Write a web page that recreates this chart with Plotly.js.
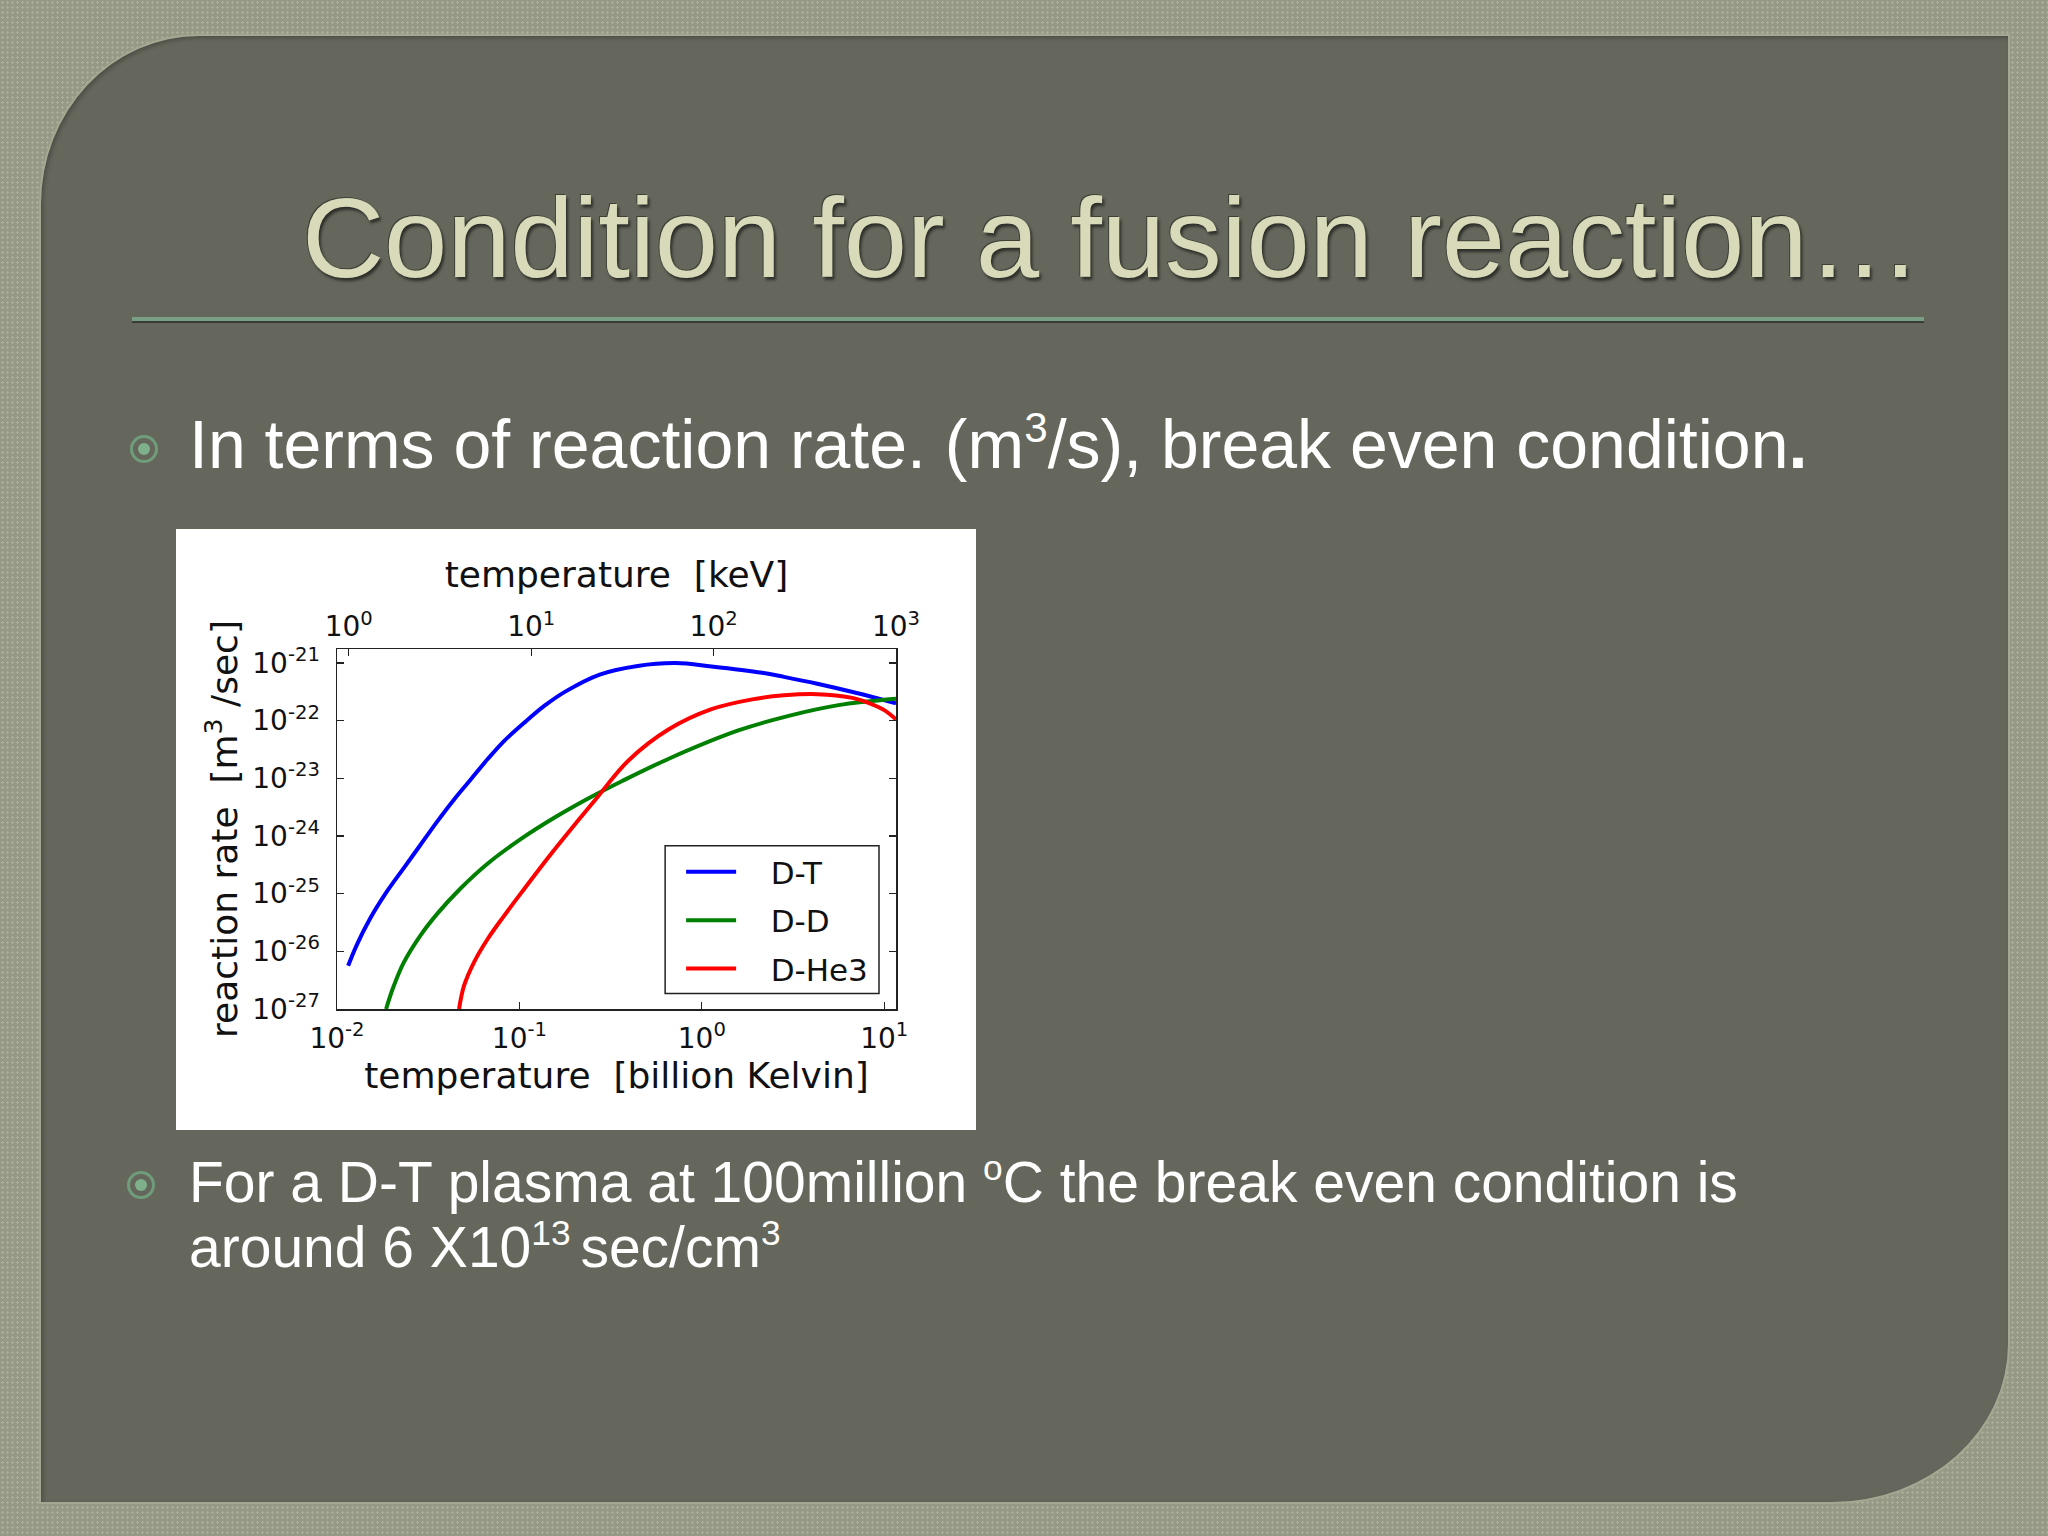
<!DOCTYPE html>
<html>
<head>
<meta charset="utf-8">
<script src="https://cdn.plot.ly/plotly-3.0.1.min.js"></script>
<style>
  html, body { margin:0; padding:0; }
  body {
    width:2048px; height:1536px; position:relative; overflow:hidden;
    background-color:#969985;
    background-image: radial-gradient(rgba(225,230,205,0.28) 1px, transparent 1.4px);
    background-size: 5px 5px;
    font-family: "Liberation Sans", Arial, sans-serif;
  }
  #panel {
    position:absolute; left:39px; top:34px; width:1967px; height:1466px;
    background:#65675c;
    border:2px solid #a4a892;
    border-top-left-radius:160px 170px;
    border-bottom-right-radius:178px 160px;
    box-shadow: inset 2px 2px 4px rgba(0,0,0,0.25);
  }
  #title {
    position:absolute; left:302px; top:181px; font-size:114px; line-height:114px;
    color:#d8dab9; white-space:nowrap; letter-spacing:-0.3px;
    text-shadow: -1px -1px 0 #3e4036, 2px 3px 3px rgba(0,0,0,0.55);
  }
  #rule1 { position:absolute; left:132px; top:317px; width:1792px; height:4px; background:#79a085; }
  #rule2 { position:absolute; left:132px; top:321px; width:1792px; height:2px; background:#3a3c33; }
  .bullet { position:absolute; width:28px; height:28px; border-radius:50%; box-sizing:border-box;
            border:3px solid #6f9c7b; }
  .bullet::after { content:""; position:absolute; left:5px; top:5px; width:12px; height:12px; border-radius:50%; background:#7fb08c; }
  .txt { position:absolute; left:189px; color:#ffffff; white-space:nowrap; }
  .txt sup { font-size:0.62em; vertical-align:0.62em; line-height:0; }
  #chartbox { position:absolute; left:176px; top:529px; width:800px; height:601px; background:#ffffff; }
</style>
</head>
<body>
<div id="panel"></div>
<div id="title">Condition for a fusion reaction…</div>
<div id="rule1"></div><div id="rule2"></div>

<div class="bullet" style="left:130px; top:435px;"></div>
<div class="txt" style="top:410px; font-size:68px; line-height:68px;">In terms of reaction rate. (m<sup>3</sup>/s), break even condition<b>.</b></div>

<div id="chartbox"></div>

<div class="bullet" style="left:127px; top:1171px;"></div>
<div class="txt" style="top:1150px; font-size:57px; line-height:65px;">For a D-T plasma at 100million <sup>o</sup>C the break even condition is<br>around 6 X10<sup>13 </sup>sec/cm<sup>3</sup></div>

<script>
// ---- data (temperature in billion Kelvin, reaction rate in m^3/sec) ----
const seriesNames = ['D-T', 'D-D', 'D-He3'];
const seriesColors = ['#0000ff', '#008000', '#ff0000'];

const dtTemp = [0.01151, 0.01279, 0.01514, 0.01871, 0.02317, 0.02858, 0.0354, 0.04375, 0.05408, 0.06683, 0.0826, 0.1067, 0.1374, 0.1774, 0.2754, 0.4446, 0.7211, 1.130, 2.143, 2.818, 4.295, 7.063, 11.6];
const dtRate = [5.62e-27, 1.26e-26, 3.63e-26, 1.07e-25, 2.75e-25, 6.92e-25, 1.78e-24, 4.27e-24, 9.55e-24, 2.14e-23, 4.47e-23, 9.33e-23, 1.82e-22, 3.16e-22, 6.31e-22, 8.91e-22, 1.0e-21, 8.71e-22, 6.76e-22, 5.75e-22, 4.37e-22, 3.02e-22, 2.0e-22];

const ddTemp = [0.01858, 0.02037, 0.02317, 0.02858, 0.0354, 0.04753, 0.06683, 0.1021, 0.156, 0.2382, 0.3639, 0.6592, 1.585, 2.958, 5.61, 11.6];
const ddRate = [1.0e-27, 2.4e-27, 6.31e-27, 1.86e-26, 4.47e-26, 1.23e-25, 3.31e-25, 8.91e-25, 2.09e-24, 4.47e-24, 8.91e-24, 2.19e-23, 6.76e-23, 1.2e-22, 1.86e-22, 2.4e-22];

const dhe3Temp = [0.04667, 0.04966, 0.05636, 0.06683, 0.0826, 0.1067, 0.1432, 0.1977, 0.2594, 0.3963, 0.6592, 1.130, 1.888, 2.818, 4.295, 6.577, 8.318, 10.05, 11.6];
const dhe3Rate = [1.0e-27, 2.51e-27, 6.46e-27, 1.62e-26, 4.17e-26, 1.23e-25, 4.17e-25, 1.48e-24, 4.17e-24, 2.04e-23, 7.08e-23, 1.58e-22, 2.34e-22, 2.75e-22, 2.88e-22, 2.51e-22, 2.0e-22, 1.51e-22, 1.05e-22];

// axis limits and ticks
const tempRange = [0.01, 11.6];            // billion Kelvin
const keVPerBillionK = 86.17;
const rateRange = [1e-27, 1.75e-21];

const kelvinTickVals = [0.01, 0.1, 1, 10];
const kelvinTickText = ['10<sup>-2</sup>', '10<sup>-1</sup>', '10<sup>0</sup>', '10<sup>1</sup>'];
const keVTickVals = [1, 10, 100, 1000];
const keVTickText = ['10<sup>0</sup>', '10<sup>1</sup>', '10<sup>2</sup>', '10<sup>3</sup>'];
const rateTickVals = [1e-27, 1e-26, 1e-25, 1e-24, 1e-23, 1e-22, 1e-21];
const rateTickText = ['10<sup>-27</sup>', '10<sup>-26</sup>', '10<sup>-25</sup>', '10<sup>-24</sup>', '10<sup>-23</sup>', '10<sup>-22</sup>', '10<sup>-21</sup>'];

const xTitle = 'temperature\u00a0 [billion Kelvin]';
const x2Title = 'temperature\u00a0 [keV]';
const yTitle = 'reaction rate\u00a0 [m<sup>3</sup> /sec]';
const legendPad = '\u00a0\u00a0\u00a0';

// ---- build chart ----
const temps = [dtTemp, ddTemp, dhe3Temp];
const rates = [dtRate, ddRate, dhe3Rate];
const traces = seriesNames.map((n, i) => ({
  type: 'scatter', mode: 'lines', name: legendPad + n, legendgroup: n,
  x: temps[i], y: rates[i], xaxis: 'x', yaxis: 'y',
  line: { color: seriesColors[i], width: 4, shape: 'spline', smoothing: 1 },
  hoverinfo: 'skip'
}));
// carrier for the top (keV) axis
traces.push({ type: 'scatter', mode: 'lines', x: keVTickVals, y: keVTickVals.map(() => null),
  xaxis: 'x2', yaxis: 'y', showlegend: false, hoverinfo: 'skip' });

const axCol = '#222222';
const tickFont = { size: 28, color: '#111', family: 'DejaVu Sans' };
const common = {
  type: 'log', showgrid: false, zeroline: false, showline: true, linecolor: axCol, linewidth: 1.5,
  ticks: 'inside', ticklen: 7, tickwidth: 1.3, tickcolor: axCol, tickfont: tickFont
};

const layout = {
  width: 800, height: 601,
  margin: { l: 161, r: 80, t: 120, b: 121, pad: 0 },
  paper_bgcolor: '#ffffff', plot_bgcolor: '#ffffff',
  font: { family: 'DejaVu Sans', color: '#111', size: 28 },
  showlegend: true,
  xaxis: Object.assign({}, common, {
    range: tempRange.map(Math.log10),
    tickmode: 'array', tickvals: kelvinTickVals, ticktext: kelvinTickText,
    ticklabelstandoff: 4,
    title: { text: xTitle, font: { size: 36 }, standoff: 2 }
  }),
  xaxis2: Object.assign({}, common, {
    overlaying: 'x', side: 'top', anchor: 'y',
    range: tempRange.map(t => Math.log10(t * keVPerBillionK)),
    tickmode: 'array', tickvals: keVTickVals, ticktext: keVTickText,
    title: { text: x2Title, font: { size: 36 }, standoff: 8 }
  }),
  yaxis: Object.assign({}, common, {
    range: rateRange.map(Math.log10), mirror: 'ticks',
    tickmode: 'array', tickvals: rateTickVals, ticktext: rateTickText,
    ticklabelstandoff: 10,
    title: { text: yTitle, font: { size: 36 }, standoff: 3 }
  }),
  shapes: [{
    type: 'rect', xref: 'paper', yref: 'paper', layer: 'above',
    x0: 0.587, x1: 0.9696, y0: 0.043, y1: 0.4535,
    fillcolor: '#ffffff', line: { color: axCol, width: 1.5 }
  }],
  legend: {
    x: 0.6156, xanchor: 'left', y: 0.455, yanchor: 'top',
    bgcolor: 'rgba(0,0,0,0)', borderwidth: 0,
    font: { size: 31, family: 'DejaVu Sans', color: '#111' },
    itemwidth: 50, tracegroupgap: 5, traceorder: 'grouped'
  }
};

Plotly.newPlot('chartbox', traces, layout, { displayModeBar: false, staticPlot: true });
</script>
</body>
</html>
